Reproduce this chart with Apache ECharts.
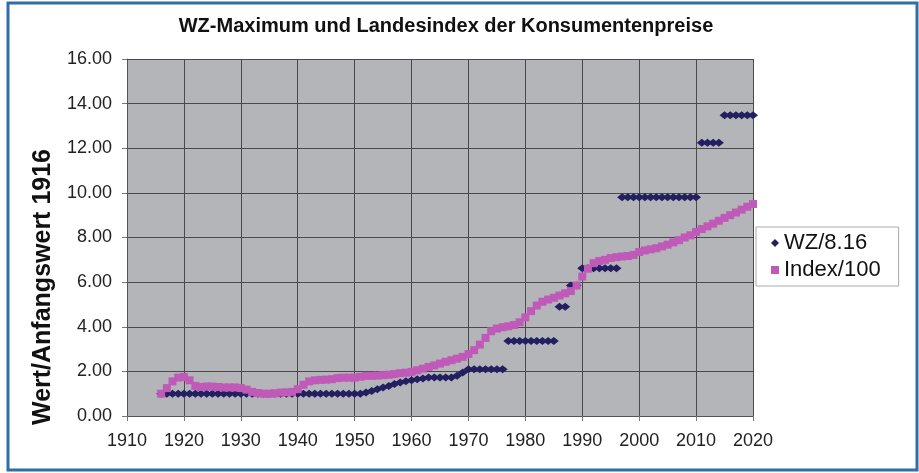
<!DOCTYPE html>
<html>
<head>
<meta charset="utf-8">
<script src="https://cdn.jsdelivr.net/npm/echarts@6/dist/echarts.min.js"></script>
<style>
html, body { margin: 0; padding: 0; background: #fff; }
#chart { width: 919px; height: 473px; }
</style>
</head>
<body>
<div id="chart"></div>
<script>
// Jahre 1916..2020
var years = [];
for (var y = 1916; y <= 2020; y++) years.push(y);

// WZ/8.16
var wz = [
  1.0, 1.0, 1.0, 1.0, 1.0, 1.0, 1.0, 1.0, 1.0, 1.0,      // 1916-1925
  1.0, 1.0, 1.0, 1.0, 1.0, 1.0, 1.0, 1.0, 1.0, 1.0,      // 1926-1935
  1.0, 1.0, 1.0, 1.0, 1.0, 1.0, 1.0, 1.0, 1.0, 1.0,      // 1936-1945
  1.0, 1.0, 1.0, 1.0, 1.0, 1.0, 1.05, 1.12, 1.2, 1.28,   // 1946-1955
  1.35, 1.43, 1.5, 1.56, 1.6, 1.65, 1.68, 1.72, 1.72, 1.72, // 1956-1965
  1.72, 1.72, 1.8, 1.95, 2.1, 2.1, 2.1, 2.1, 2.1, 2.1,   // 1966-1975
  2.1, 3.36, 3.36, 3.36, 3.36, 3.36, 3.36, 3.36, 3.36, 3.36, // 1976-1985
  4.9, 4.9, 5.85, 5.85, 6.62, 6.62, 6.62, 6.62, 6.62, 6.62, // 1986-1995
  6.62, 9.8, 9.8, 9.8, 9.8, 9.8, 9.8, 9.8, 9.8, 9.8,     // 1996-2005
  9.8, 9.8, 9.8, 9.8, 9.8, 12.25, 12.25, 12.25, 12.25, 13.48, // 2006-2015
  13.48, 13.48, 13.48, 13.48, 13.48                        // 2016-2020
];

// Landesindex/100
var index = [
  1.0, 1.25, 1.55, 1.72, 1.75, 1.6, 1.35, 1.3, 1.32, 1.32,   // 1916-1925
  1.3, 1.28, 1.28, 1.28, 1.25, 1.18, 1.08, 1.03, 1.0, 1.0,   // 1926-1935
  1.02, 1.05, 1.06, 1.08, 1.2, 1.4, 1.55, 1.6, 1.62, 1.63,   // 1936-1945
  1.65, 1.7, 1.72, 1.72, 1.72, 1.76, 1.8, 1.8, 1.81, 1.83,   // 1946-1955
  1.85, 1.88, 1.92, 1.94, 1.98, 2.05, 2.12, 2.2, 2.27, 2.35, // 1956-1965
  2.43, 2.5, 2.57, 2.65, 2.78, 2.95, 3.2, 3.5, 3.8, 3.92,    // 1966-1975
  3.98, 4.02, 4.08, 4.2, 4.42, 4.7, 4.95, 5.12, 5.22, 5.3,   // 1976-1985
  5.4, 5.5, 5.6, 5.85, 6.25, 6.6, 6.85, 6.95, 7.0, 7.08,     // 1986-1995
  7.12, 7.15, 7.17, 7.22, 7.35, 7.42, 7.47, 7.52, 7.6, 7.68, // 1996-2005
  7.78, 7.88, 8.0, 8.1, 8.25, 8.38, 8.5, 8.62, 8.75, 8.88,   // 2006-2015
  9.0, 9.12, 9.25, 9.38, 9.5                                  // 2016-2020
];

var xTicks = [1910, 1920, 1930, 1940, 1950, 1960, 1970, 1980, 1990, 2000, 2010, 2020];
var yTicks = [0, 2, 4, 6, 8, 10, 12, 14, 16];

function pairs(vals) {
  var out = [];
  for (var i = 0; i < years.length; i++) out.push([years[i], vals[i]]);
  return out;
}

var chart = echarts.init(document.getElementById('chart'));
var option = {
  backgroundColor: '#fff',
  animation: false,
  textStyle: { fontFamily: 'Liberation Sans, Arial, sans-serif' },
  title: {
    text: 'WZ-Maximum und Landesindex der Konsumentenpreise',
    left: 441,
    textAlign: 'center',
    top: 11,
    textStyle: { fontSize: 20, fontWeight: 'bold', color: '#111' }
  },
  graphic: [{
    type: 'rect',
    shape: { x: 8, y: 3, width: 909, height: 467 },
    style: { fill: 'none', stroke: '#2f6fa8', lineWidth: 3 },
    z: 100
  }, {
    type: 'text',
    x: 43,
    y: 287,
    rotation: Math.PI / 2,
    style: {
      text: 'Wert/Anfangswert 1916',
      font: 'bold 25px Liberation Sans, Arial, sans-serif',
      fill: '#111',
      align: 'center',
      verticalAlign: 'middle'
    }
  }],
  legend: {
    orient: 'vertical',
    left: 756,
    top: 227,
    padding: [5, 18, 5, 15],
    itemGap: 5,
    itemWidth: 8,
    itemHeight: 8,
    backgroundColor: '#fff',
    borderColor: '#aaa',
    borderWidth: 1,
    textStyle: { fontSize: 22, color: '#111' },
    data: [
      { name: 'WZ/8.16', icon: 'diamond', itemStyle: { color: '#231f60' } },
      { name: 'Index/100', icon: 'rect', itemStyle: { color: '#c05ab8' } }
    ]
  },
  grid: { left: 127, right: 166, top: 59, bottom: 57, show: true, backgroundColor: '#b3b5b8', borderWidth: 0 },
  xAxis: {
    type: 'value',
    min: 1910, max: 2020, interval: 10,
    axisLine: { show: true, onZero: false, lineStyle: { color: '#555', width: 1 } },
    axisTick: { show: true, length: 5, lineStyle: { color: '#777' } },
    axisLabel: {
      fontSize: 18, color: '#222', margin: 16,
      formatter: function (v) { return String(v); }
    },
    splitLine: { show: true, lineStyle: { color: '#4a4a4a', width: 1 } }
  },
  yAxis: {
    type: 'value',
    min: 0, max: 16, interval: 2,
    axisLine: { show: true, lineStyle: { color: '#555', width: 1 } },
    axisTick: { show: true, length: 5, lineStyle: { color: '#777' } },
    axisLabel: {
      fontSize: 18, color: '#222', margin: 15,
      formatter: function (v) { return v.toFixed(2); }
    },
    splitLine: { show: true, lineStyle: { color: '#4a4a4a', width: 1 } }
  },
  series: [
    {
      name: 'WZ/8.16',
      type: 'scatter',
      symbol: 'diamond',
      symbolSize: [10, 8],
      itemStyle: { color: '#231f60', opacity: 1 },
      data: pairs(wz),
      z: 2
    },
    {
      name: 'Index/100',
      type: 'scatter',
      symbol: 'rect',
      symbolSize: 8,
      itemStyle: { color: '#c05ab8', opacity: 1 },
      data: pairs(index),
      z: 3
    }
  ]
};
chart.setOption(option);
</script>
</body>
</html>
